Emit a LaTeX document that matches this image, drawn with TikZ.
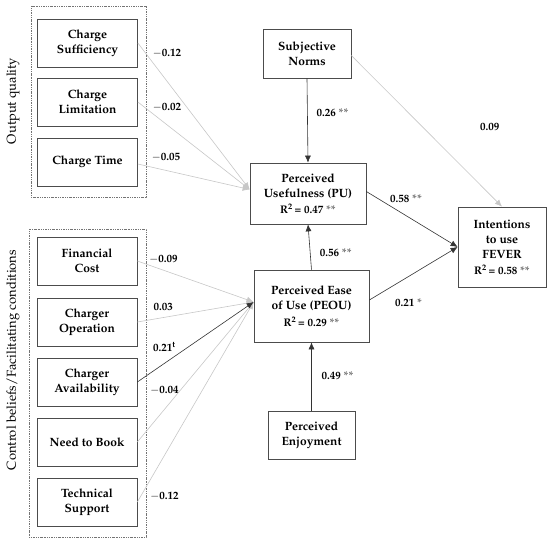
\documentclass[tikz,border=0pt]{standalone}
\usepackage[T1]{fontenc}
\usepackage{mathpazo}
\usepackage{xcolor}
\usetikzlibrary{arrows.meta}
\newcommand{\sig}[1]{\textcolor{black!60}{#1}}
\tikzstyle{factor} = [rectangle, minimum width=100pt, minimum height=48pt, text centered, align=center, draw=black!70, line width=0.7pt, font=\fontsize{12}{15}\selectfont\bfseries]
\tikzstyle{construct} = [rectangle, text centered, align=center, draw=black!70, line width=0.7pt, font=\fontsize{12}{15}\selectfont\bfseries]
\tikzstyle{group} = [draw=black!55, line width=0.6pt, dash pattern=on 1.2pt off 1pt on 0.4pt off 1pt]
\tikzstyle{arrow} = [-{Latex[length=7pt,width=6pt]}, draw=black!80, line width=0.6pt]
\tikzstyle{greyarrow} = [-{Latex[length=7pt,width=6pt]}, draw=black!22, line width=0.6pt]
\tikzstyle{coef} = [font=\fontsize{11}{13}\selectfont\bfseries, inner sep=0pt]
\tikzstyle{grouplabel} = [rotate=90, font=\fontsize{13}{14}\selectfont]

\begin{document}
\begin{tikzpicture}[x=1pt, y=-1pt]
    \useasboundingbox (0,0) rectangle (550,543);

    % group frames
    \draw [group] (31,6) rectangle (146,197);
    \draw [group] (29,229) rectangle (146,537);
    \node (outq) [grouplabel] at (13,101) {Output quality};
    \node (ctrl) [grouplabel] at (13,360) {Control beliefs/Facilitating conditions};

    % output quality
    \node (suff) [factor] at (87.5,43) {Charge\\Sufficiency};
    \node (limit) [factor] at (87.5,102) {Charge\\Limitation};
    \node (time) [factor] at (87.5,162) {Charge Time};

    % control beliefs
    \node (cost) [factor] at (87,261) {Financial\\Cost};
    \node (oper) [factor] at (87,322) {Charger\\Operation};
    \node (avail) [factor] at (87,382) {Charger\\Availability};
    \node (book) [factor] at (87,442) {Need to Book};
    \node (tech) [factor] at (87,502) {Technical\\Support};

    % main constructs
    \node (norms) [construct, minimum width=88pt, minimum height=49pt] at (307,53.5) {Subjective\\Norms};
    \node (pu) [construct, minimum width=116pt, minimum height=61pt] at (308,193.5)
    {Perceived\\Usefulness (PU)\\[1pt] {\fontsize{11}{13}\selectfont R\textsuperscript{2}\,= 0.47 \sig{**}}};
    \node (peou) [construct, minimum width=115pt, minimum height=72pt] at (311.5,306)
    {Perceived Ease\\of Use (PEOU)\\[2pt] {\fontsize{11}{13}\selectfont R\textsuperscript{2}\,= 0.29 \sig{**}}};
    \node (enjoy) [construct, minimum width=87pt, minimum height=48pt] at (311.5,435) {Perceived\\Enjoyment};
    \node (intent) [construct, minimum width=88pt, minimum height=80pt] at (502,247)
    {Intentions\\to use\\FEVER\\[1pt] {\fontsize{11}{13}\selectfont R\textsuperscript{2}\,= 0.58 \sig{**}}};

    % paths into PU
    \draw [greyarrow] (suff.east) -- node[coef, at start, xshift=29pt, yshift=-10pt] {$-$0.12} ([yshift=4pt]pu.west);
    \draw [greyarrow] (limit.east) -- node[coef, at start, xshift=29pt, yshift=-5pt] {$-$0.02} ([yshift=4pt]pu.west);
    \draw [greyarrow] ([yshift=-2pt]time.east) -- node[coef, at start, xshift=28pt, yshift=7pt] {$-$0.05} ([yshift=4pt]pu.west);
    \draw [arrow] (norms.south) -- node[coef, midway, xshift=25pt, yshift=8pt] {0.26 \sig{**}} (pu.north);
    \draw [arrow] (peou.north) -- node[coef, midway, xshift=26pt, yshift=-6pt] {0.56 \sig{**}} (pu.south);

    % paths into PEOU
    \draw [greyarrow] (cost.east) -- node[coef, at start, xshift=26pt, yshift=2pt] {$-$0.09} ([yshift=4pt]peou.west);
    \draw [greyarrow] (oper.east) -- node[coef, at start, xshift=26pt, yshift=15pt] {0.03} ([yshift=4pt]peou.west);
    \draw [greyarrow] (book.east) -- node[coef, at start, xshift=27pt, yshift=52pt] {$-$0.04} ([yshift=4pt]peou.west);
    \draw [greyarrow] (tech.east) -- node[coef, at start, xshift=27pt, yshift=6pt] {$-$0.12} ([yshift=4pt]peou.west);
    \draw [arrow] (avail.east) -- node[coef, at start, xshift=27pt, yshift=35pt] {0.21\textsuperscript{t}} ([yshift=4pt]peou.west);
    \draw [arrow] (enjoy.north) -- node[coef, midway, xshift=26pt, yshift=1pt] {0.49 \sig{**}} (peou.south);

    % paths into intentions
    \draw [arrow] ([yshift=2pt]pu.east) -- node[coef, midway, xshift=-6pt, yshift=21pt] {0.58 \sig{**}} (intent.west);
    \draw [arrow] ([yshift=6pt]peou.east) -- node[coef, midway, xshift=-5pt, yshift=-29pt] {0.21 \sig{*}} (intent.west);
    \draw [greyarrow] ([yshift=-2pt]norms.east) -- node[coef, midway, xshift=63pt, yshift=4pt] {0.09} (intent.north);
\end{tikzpicture}
\end{document}
